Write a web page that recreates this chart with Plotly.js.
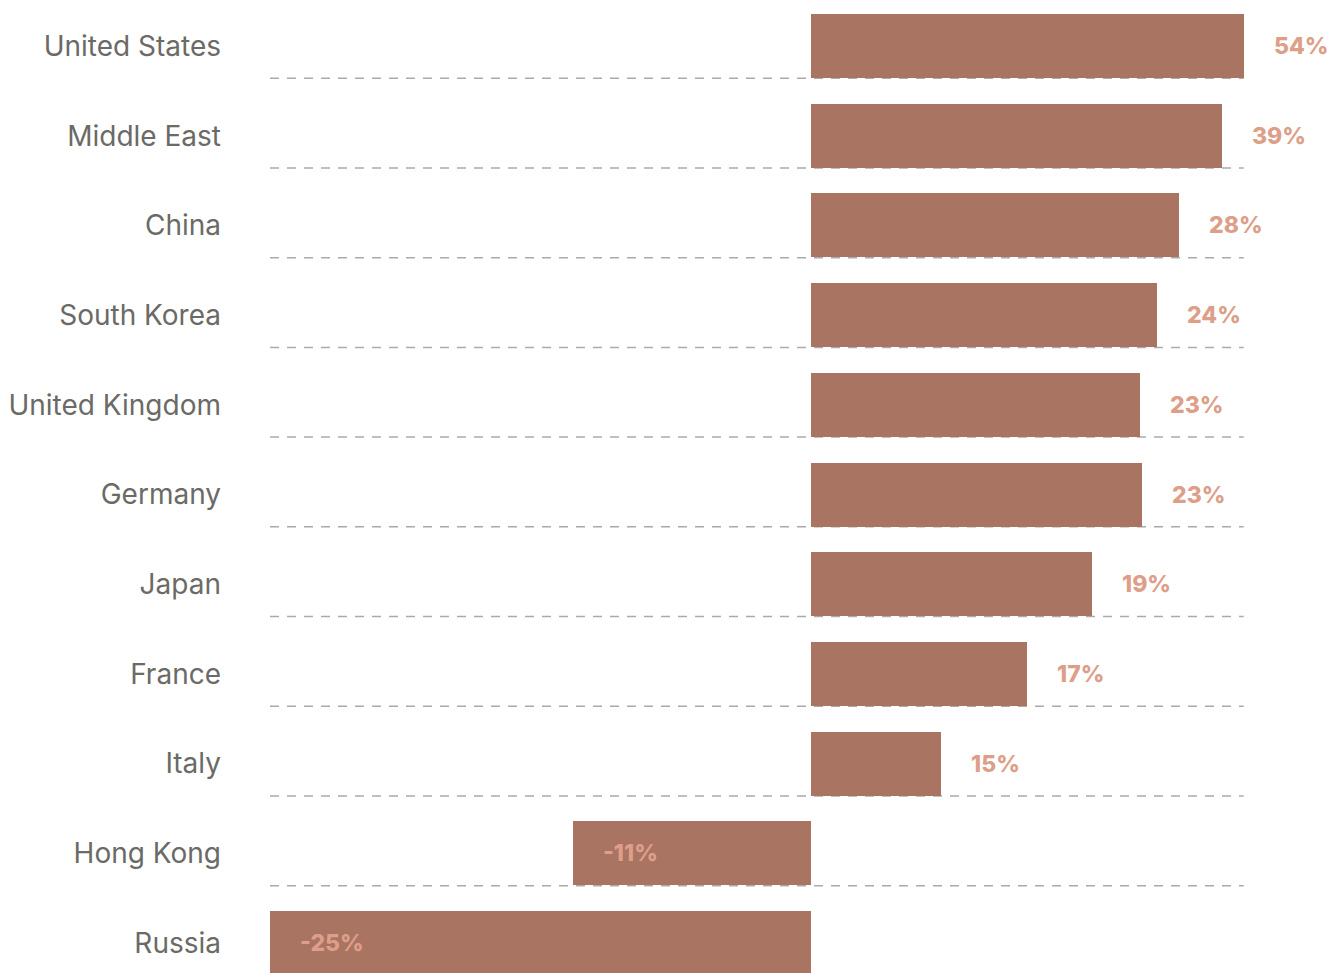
<!DOCTYPE html>
<html>
<head>
<meta charset="utf-8">
<script src="https://cdn.plot.ly/plotly-3.0.1.min.js"></script>
<style>html,body{margin:0;padding:0;background:#fff;}#chart{width:1342px;height:973px;}</style>
</head>
<body>
<div id="chart"></div>
<script>
// Categories, top to bottom
const categories = ["United States", "Middle East", "China", "South Korea", "United Kingdom", "Germany", "Japan", "France", "Italy", "Hong Kong", "Russia"];
// Bar lengths as drawn in the picture (axis units)
const barValues = [20.0, 19.0, 17.0, 16.0, 15.2, 15.3, 13.0, 10.0, 6.0, -11.0, -25.0];
// Printed value labels
const valueLabels = ["54%", "39%", "28%", "24%", "23%", "23%", "19%", "17%", "15%", "-11%", "-25%"];

const barColor = "#a97462";
const labelColor = "#dd9f89";
const catColor = "#6b6a66";

const trace = {
  type: "bar",
  orientation: "h",
  y: categories,
  x: barValues,
  width: 0.7135,
  marker: {color: barColor},
  hoverinfo: "skip"
};

const gridX0 = -25, gridX1 = 20;
const shapes = categories.slice(0, categories.length - 1).map((c, i) => ({
  type: "line", layer: "below", xref: "x", yref: "y",
  x0: gridX0, x1: gridX1, y0: i + 0.36, y1: i + 0.36,
  line: {color: "#aaaaaa", width: 1.5, dash: "9px,8px"}
}));

const annotations = categories.map((c, i) => ({
  xref: "x", yref: "y", x: barValues[i], y: c,
  text: valueLabels[i], showarrow: false,
  xanchor: "left", yanchor: "middle",
  xshift: barValues[i] >= 0 ? 28 : 28,
  font: {family: "Inter, 'Open Sans', sans-serif", size: 23, color: labelColor, weight: 800}
}));

const layout = {
  width: 1342, height: 973,
  margin: {l: 270, r: 0, t: 0, b: 0},
  paper_bgcolor: "#ffffff", plot_bgcolor: "#ffffff",
  showlegend: false,
  bargap: 0,
  xaxis: {range: [-25, 24.54], visible: false, showgrid: false, zeroline: false, fixedrange: true},
  yaxis: {
    type: "category", categoryorder: "array", categoryarray: categories,
    range: [10.334, -0.513], showgrid: false, zeroline: false, showline: false,
    ticks: "", ticklabelstandoff: 48,
    tickfont: {family: "Inter, 'Open Sans', sans-serif", size: 28, color: catColor}
  },
  shapes: shapes,
  annotations: annotations
};

Plotly.newPlot("chart", [trace], layout, {displayModeBar: false, staticPlot: true});
</script>
</body>
</html>
